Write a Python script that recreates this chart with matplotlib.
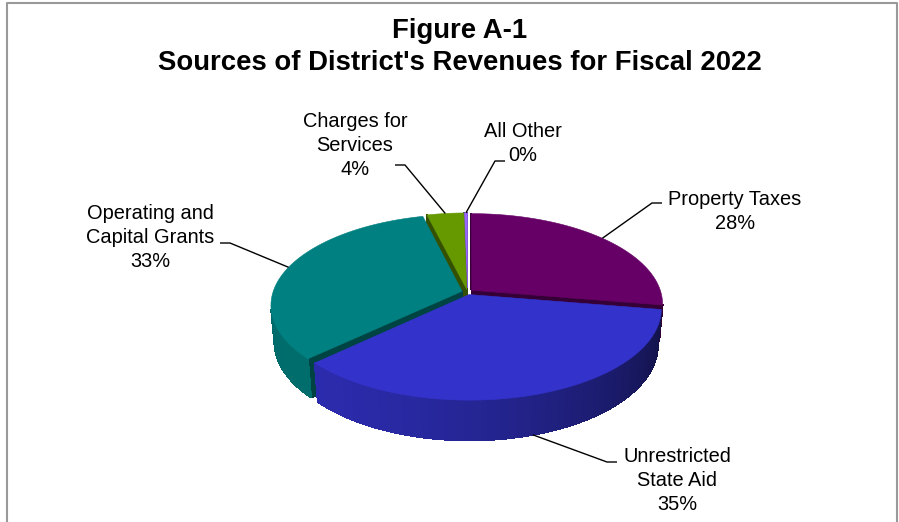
import numpy as np
import matplotlib
matplotlib.use('Agg')
import matplotlib.pyplot as plt
from matplotlib.patches import Polygon
from matplotlib.colors import to_rgb

plt.rcParams['font.family'] = ['Liberation Sans', 'DejaVu Sans']

# ---- data ----
TITLE_LINES = ['Figure A-1', "Sources of District's Revenues for Fiscal 2022"]
CATEGORIES = ['Property Taxes', 'Unrestricted\nState Aid', 'Operating and\nCapital Grants',
              'Charges for\nServices', 'All Other']
SHARES = [27.6, 35.4, 33.1, 3.6, 0.3]
COLORS = ['#660066', '#3333CC', '#008080', '#669900', '#9966FF']

# ---- label layout (pixels): centre x, first baseline, leader start, leader elbow ----
LABEL_XY = [(735, 205), (677, 462), (150, 219), (355, 127), (523, 137)]
LEADER = [((662, 203), (652, 203)), ((617, 462), (607, 462)), ((220, 243), (230, 243)),
          ((395, 165), (405, 165)), ((505, 161), (495, 161))]
LINE_STEP = 24

# ---- 3d pie camera ----
CX, CY = 467.5, 292.0
F, D = 1102.0, 5.83
ELEV = np.radians(28)
H = 0.219          # disc thickness
EXPLODE = 0.03
LIGHT = np.array([-0.8, -0.6])
ce, se = np.cos(ELEV), np.sin(ELEV)
CAM = np.array([0.0, -D * ce, D * se])


def proj(p):
    p = np.atleast_2d(p)
    X, Y, Z = p[:, 0], p[:, 1], p[:, 2]
    depth = D + Y * ce - Z * se
    vert = Y * se + Z * ce
    return np.column_stack([CX + F * X / depth, CY - F * vert / depth])


def shade(col, k):
    return tuple(np.clip(np.array(to_rgb(col)) * k, 0, 1))


fig = plt.figure(figsize=(8.99, 5.22), dpi=100)
ax = fig.add_axes([0, 0, 1, 1])
ax.set_xlim(0, 899)
ax.set_ylim(522, 0)
ax.axis('off')

edges = np.concatenate([[0], np.cumsum(SHARES)]) / sum(SHARES) * 360
down = np.array([0, 0, H])

slices = []
for i in range(len(SHARES)):
    a0, a1 = np.radians(edges[i]), np.radians(edges[i + 1])
    mid = (a0 + a1) / 2
    off = EXPLODE * np.array([np.sin(mid), np.cos(mid), 0])
    cen = off + 0.5 * np.array([np.sin(mid), np.cos(mid), 0])
    slices.append((np.linalg.norm(CAM - cen), i, a0, a1, mid, off))

# far slices first
slices.sort(key=lambda t: -t[0])
z = 1
anchors = {}
for _, i, a0, a1, mid, off in slices:
    col = COLORS[i]
    n = max(2, int(np.degrees(a1 - a0) / 0.75) + 2)
    th = np.linspace(a0, a1, n)
    rim = np.column_stack([np.sin(th), np.cos(th), np.zeros(n)]) + off
    faces = []
    # outer wall, shaded strip by strip
    for k in range(n - 1):
        tm = (th[k] + th[k + 1]) / 2
        nrm = np.array([np.sin(tm), np.cos(tm), 0])
        quad = np.array([rim[k], rim[k + 1], rim[k + 1] - down, rim[k] - down])
        c = quad.mean(axis=0)
        if nrm @ (CAM - c) <= 0:
            continue
        k_sh = np.clip(0.55 + 0.3 * (nrm[:2] @ LIGHT), 0.3, 0.9)
        faces.append((np.linalg.norm(CAM - c), quad, shade(col, k_sh)))
    # radial cut faces
    for ang, nrm in ((a0, np.array([-np.cos(a0), np.sin(a0), 0])),
                     (a1, np.array([np.cos(a1), -np.sin(a1), 0]))):
        r = off + np.array([np.sin(ang), np.cos(ang), 0])
        quad = np.array([off, r, r - down, off - down])
        c = quad.mean(axis=0)
        if nrm @ (CAM - c) <= 0:
            continue
        faces.append((np.linalg.norm(CAM - c), quad, shade(col, 0.52)))
    faces.sort(key=lambda t: -t[0])
    for _, quad, fc in faces:
        ax.add_patch(Polygon(proj(quad), closed=True, fc=fc, ec=fc, lw=0.7,
                             antialiased=False, zorder=z))
        z += 1
    top = np.vstack([off, rim])
    ax.add_patch(Polygon(proj(top), closed=True, fc=col, ec=col, lw=0.4, zorder=z))
    z += 1
    tip = off + np.array([np.sin(mid), np.cos(mid), 0])
    if np.cos(mid) < -0.5:
        tip = tip - down
    anchors[i] = proj(tip)[0]

# labels and leader lines
for i, name in enumerate(CATEGORIES):
    lines = name.split('\n') + [f'{SHARES[i]:.0f}%']
    x, y0 = LABEL_XY[i]
    for j, ln in enumerate(lines):
        ax.text(x, y0 + j * LINE_STEP, ln, ha='center', va='baseline',
                fontsize=14.4, color='black', zorder=z + 2)
    start, elbow = LEADER[i]
    ax_, ay_ = anchors[i]
    ax.plot([start[0], elbow[0], ax_], [start[1], elbow[1], ay_],
            color='black', lw=1.0, zorder=z + 1, solid_capstyle='butt')

# title
for j, t in enumerate(TITLE_LINES):
    ax.text(460, 38 + j * 32, t, ha='center', va='baseline',
            fontsize=19.8, fontweight='bold', color='black')

# chart area border (open at the bottom)
ax.plot([7, 7, 897, 897], [530, 3, 3, 530], color='#999999', lw=1.5, clip_on=False)

fig.savefig('out.png', dpi=100, facecolor='white')
